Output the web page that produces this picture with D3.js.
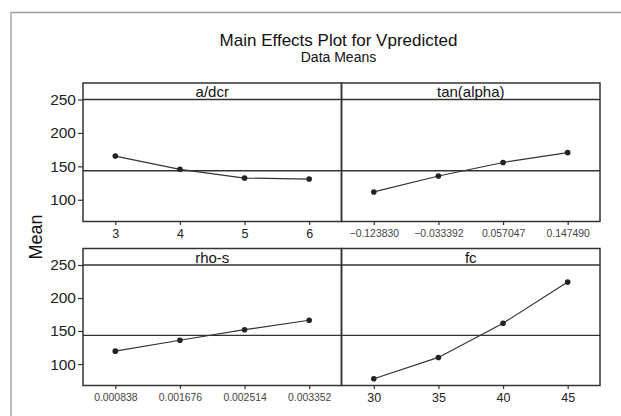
<!DOCTYPE html>
<html>
<head>
<meta charset="utf-8">
<script src="https://cdn.jsdelivr.net/npm/d3@7"></script>
<style>
  html, body { margin: 0; padding: 0; background: #fff; }
  svg { display: block; font-family: "Liberation Sans", Arial, sans-serif; }
</style>
</head>
<body>
<svg id="chart" width="621" height="416"></svg>
<script>
// ---- Data ----
const title = "Main Effects Plot for Vpredicted";
const subtitle = "Data Means";
const yLabel = "Mean";
const factorNames = ["a/dcr", "tan(alpha)", "rho-s", "fc"];
const levelsAdcr = ["3", "4", "5", "6"];
const levelsTan = ["\u22120.123830", "\u22120.033392", "0.057047", "0.147490"];
const levelsRho = ["0.000838", "0.001676", "0.002514", "0.003352"];
const levelsFc = ["30", "35", "40", "45"];
const meansAdcr = [165.3, 145.6, 132.5, 131.0];
const meansTan = [111.7, 135.6, 155.8, 170.5];
const meansRho = [119.5, 136.0, 152.0, 166.3];
const meansFc = [77.7, 110.0, 161.8, 224.1];
const grandMean = 143.4;
const yTicks = [100, 150, 200, 250];

// ---- Layout ----
const svg = d3.select("#chart");
const colX = [[83, 341.5], [341.5, 600]];
const rowY = [[83, 221.5], [248.5, 385.5]];
const headerH = 16.5;
const yDomain = [67.5, 250];

const panels = [
  { name: factorNames[0], levels: levelsAdcr, means: meansAdcr, col: 0, row: 0, small: false },
  { name: factorNames[1], levels: levelsTan, means: meansTan, col: 1, row: 0, small: true },
  { name: factorNames[2], levels: levelsRho, means: meansRho, col: 0, row: 1, small: true },
  { name: factorNames[3], levels: levelsFc, means: meansFc, col: 1, row: 1, small: false }
];

// outer frame (gray)
svg.append("path")
  .attr("d", "M11,430 L11,12.5 L630,12.5")
  .attr("fill", "none").attr("stroke", "#9a9a9a").attr("stroke-width", 1.3);

// titles
svg.append("text").attr("x", 338.5).attr("y", 45.5)
  .attr("text-anchor", "middle").attr("font-size", 17).attr("fill", "#111")
  .text(title);
svg.append("text").attr("x", 338.5).attr("y", 62)
  .attr("text-anchor", "middle").attr("font-size", 14).attr("fill", "#111")
  .text(subtitle);

// y label
svg.append("text")
  .attr("transform", "translate(41.5,237) rotate(-90)")
  .attr("text-anchor", "middle").attr("font-size", 18).attr("fill", "#111")
  .text(yLabel);

const stroke = "#333";

panels.forEach(p => {
  const [x0, x1] = colX[p.col];
  const [top, bottom] = rowY[p.row];
  const plotTop = top + headerH;

  const x = d3.scalePoint().domain(p.levels).range([x0, x1]).padding(0.5);
  const y = d3.scaleLinear().domain(yDomain).range([bottom, plotTop]);

  const g = svg.append("g");

  // grand mean reference line
  g.append("line")
    .attr("x1", x0).attr("x2", x1)
    .attr("y1", y(grandMean)).attr("y2", y(grandMean))
    .attr("stroke", stroke).attr("stroke-width", 1.4);

  // data line
  const line = d3.line().x((d, i) => x(p.levels[i])).y(d => y(d));
  g.append("path").datum(p.means)
    .attr("d", line).attr("fill", "none")
    .attr("stroke", "#333").attr("stroke-width", 1.2);

  g.selectAll("circle").data(p.means).join("circle")
    .attr("cx", (d, i) => x(p.levels[i])).attr("cy", d => y(d))
    .attr("r", 2.8).attr("fill", "#222");

  // panel frame + header
  g.append("rect")
    .attr("x", x0).attr("y", top).attr("width", x1 - x0).attr("height", bottom - top)
    .attr("fill", "none").attr("stroke", stroke).attr("stroke-width", 1.5);
  g.append("line")
    .attr("x1", x0).attr("x2", x1).attr("y1", plotTop).attr("y2", plotTop)
    .attr("stroke", stroke).attr("stroke-width", 1.5);
  g.append("text")
    .attr("x", (x0 + x1) / 2).attr("y", plotTop - 2.3)
    .attr("text-anchor", "middle").attr("font-size", 15).attr("fill", "#111")
    .text(p.name);

  // x axis
  const xAxis = d3.axisBottom(x).tickSize(3.5).tickPadding(p.small ? 4.5 : 4);
  const ax = g.append("g").attr("transform", `translate(0,${bottom})`).call(xAxis);
  ax.select(".domain").remove();
  ax.selectAll(".tick line").attr("stroke", stroke).attr("stroke-width", 1.2);
  ax.selectAll(".tick text")
    .attr("font-size", p.small ? 10.4 : 12.5)
    .attr("fill", p.small ? "#444" : "#222")
    .attr("font-family", "\"Liberation Sans\", Arial, sans-serif");

  // y axis on left column
  if (p.col === 0) {
    const yAxis = d3.axisLeft(y).tickValues(yTicks).tickSize(5).tickPadding(2);
    const ay = g.append("g").attr("transform", `translate(${x0},0)`).call(yAxis);
    ay.select(".domain").remove();
    ay.selectAll(".tick line").attr("stroke", stroke).attr("stroke-width", 1.2);
    ay.selectAll(".tick text")
      .attr("font-size", 15.5).attr("fill", "#222")
      .attr("font-family", "\"Liberation Sans\", Arial, sans-serif");
  }
});
</script>
</body>
</html>
